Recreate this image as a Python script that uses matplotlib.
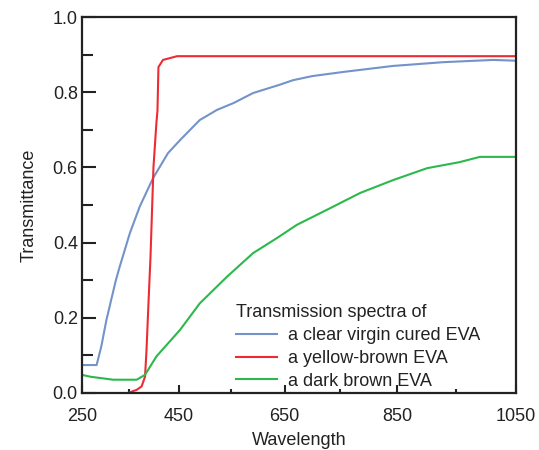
import numpy as np
import matplotlib
matplotlib.use("Agg")
import matplotlib.pyplot as plt
from matplotlib.ticker import FixedLocator, FormatStrFormatter

plt.rcParams["font.family"] = ["Liberation Sans", "DejaVu Sans"]

# transmission spectra (wavelength in nm, transmittance)
clear_wl = [250, 282, 292, 303, 313, 323, 331, 352, 372, 399, 429, 453, 491, 524,
            555, 592, 641, 665, 700, 755, 842, 928, 1012, 1050]
clear_t = [0.074, 0.074, 0.123, 0.194, 0.247, 0.300, 0.336, 0.425, 0.495, 0.571, 0.638,
           0.673, 0.726, 0.753, 0.771, 0.798, 0.820, 0.832, 0.843, 0.854, 0.870, 0.880,
           0.886, 0.884]

yellow_wl = [338, 366, 376, 383, 386, 390, 392, 394, 397, 400, 406, 408, 410, 419, 447, 1050]
yellow_t = [-0.005, 0.008, 0.017, 0.043, 0.114, 0.239, 0.30, 0.36, 0.48, 0.60, 0.72,
            0.75, 0.867, 0.886, 0.896, 0.896]

dark_wl = [250, 268, 317, 366, 383, 406, 453, 491, 543, 592, 636, 672, 726, 785, 842,
           901, 956, 990, 1050]
dark_t = [0.048, 0.043, 0.035, 0.035, 0.048, 0.097, 0.168, 0.238, 0.309, 0.372, 0.412,
          0.447, 0.487, 0.532, 0.566, 0.598, 0.614, 0.628, 0.628]

labels = ["a clear virgin cured EVA", "a yellow-brown EVA", "a dark brown EVA"]
colors = ["#7393c9", "#ee2b33", "#2cb84c"]

fig = plt.figure(figsize=(5.39, 4.5), dpi=100)
ax = fig.add_axes([0.152, 0.127, 0.805, 0.835])

ax.plot(clear_wl, clear_t, color=colors[0], lw=1.5, label=labels[0])
ax.plot(yellow_wl, yellow_t, color=colors[1], lw=1.5, label=labels[1])
ax.plot(dark_wl, dark_t, color=colors[2], lw=1.5, label=labels[2])

# the original wavelength axis is slightly stretched toward long wavelengths
ax.set_xscale("function", functions=(lambda v: np.sign(v) * np.abs(v) ** 1.2,
                                     lambda v: np.sign(v) * np.abs(v) ** (1 / 1.2)))
ax.set_xlim(250, 1050)
ax.set_ylim(0, 1.0)
ax.xaxis.set_major_locator(FixedLocator([250, 450, 650, 850, 1050]))
ax.xaxis.set_minor_locator(FixedLocator([350, 550, 750, 950]))
ax.yaxis.set_major_locator(FixedLocator([0, 0.2, 0.4, 0.6, 0.8, 1.0]))
ax.yaxis.set_minor_locator(FixedLocator([0.1, 0.3, 0.5, 0.7, 0.9]))
ax.yaxis.set_major_formatter(FormatStrFormatter("%.1f"))
ax.xaxis.set_major_formatter(FormatStrFormatter("%d"))

ax.tick_params(which="both", direction="in", top=False, right=False,
               color="#222222", width=1.5, labelsize=13, labelcolor="#222222")
ax.tick_params(axis="x", which="major", length=6, pad=11)
ax.tick_params(axis="x", which="minor", length=3)
ax.tick_params(axis="y", which="major", length=10, pad=3)
ax.tick_params(axis="y", which="minor", length=8)
for s in ax.spines.values():
    s.set_linewidth(1.6)
    s.set_color("#222222")

ax.set_xlabel("Wavelength", fontsize=13, color="#222222", labelpad=5)
ax.set_ylabel("Transmittance", fontsize=13, color="#222222", labelpad=11)

leg = ax.legend(title="Transmission spectra of", loc="lower left",
                bbox_to_anchor=(0.325, -0.025), frameon=False, fontsize=13,
                title_fontsize=13, alignment="left", handlelength=2.3,
                handletextpad=0.6, labelspacing=0.32, borderpad=0.2)
for t in leg.get_texts():
    t.set_color("#222222")
leg.get_title().set_color("#222222")

fig.savefig("out.png", dpi=100)
